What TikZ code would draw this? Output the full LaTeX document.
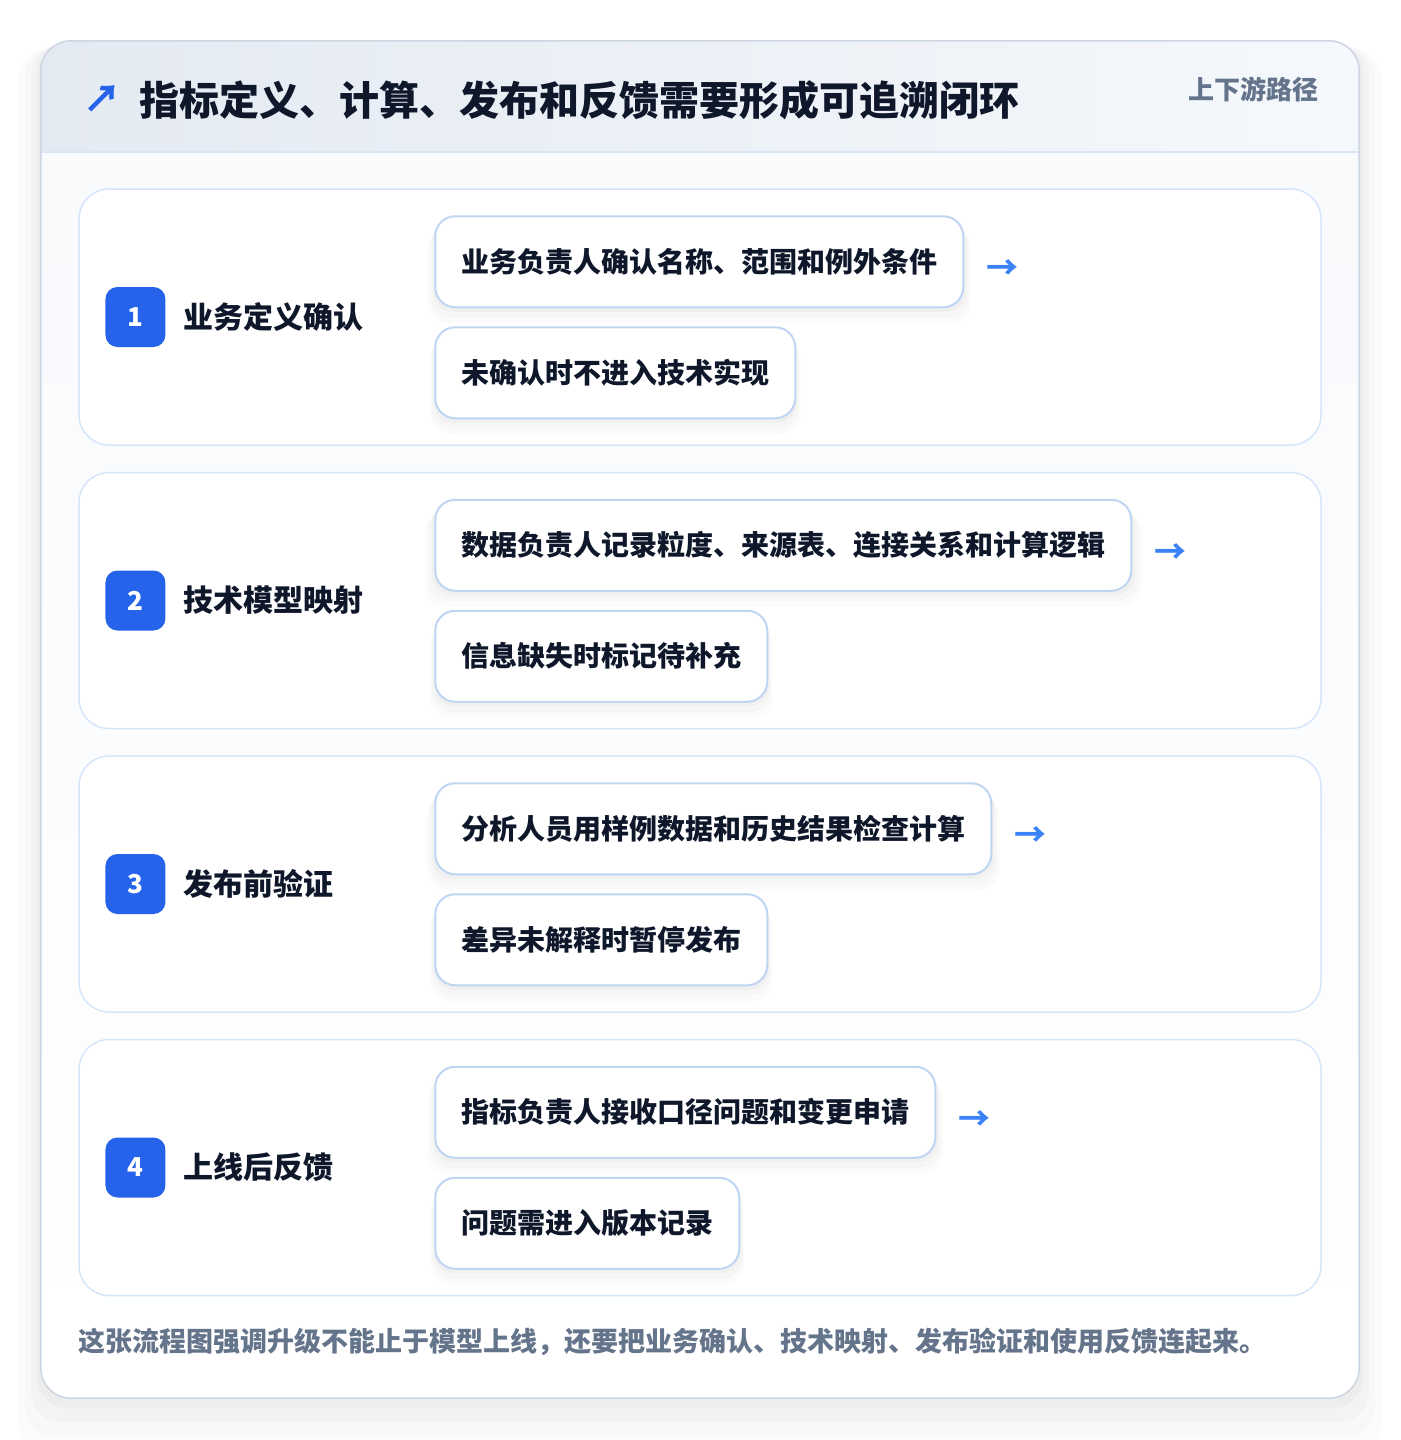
\documentclass[tikz,border=0pt]{standalone}
\usepackage{fontspec}
\setmainfont{Noto Sans CJK SC}
\usetikzlibrary{positioning,shadows}

\definecolor{ink}{HTML}{0F172A}
\definecolor{muted}{HTML}{64748B}
\definecolor{badgeblue}{HTML}{2563EB}
\definecolor{arrowblue}{HTML}{3B82F6}
\definecolor{cardline}{HTML}{D6E6FA}
\definecolor{boxline}{HTML}{BFD5F3}
\definecolor{outerline}{HTML}{CDD6E3}
\definecolor{headA}{HTML}{E4EAF2}
\definecolor{headB}{HTML}{F5F8FC}
\definecolor{headline}{HTML}{D9E6F6}
\definecolor{bodytop}{HTML}{F7F9FC}

\begin{document}
\begin{tikzpicture}[x=1pt, y=-1pt,
    outercard/.style={rounded corners=30pt, minimum width=1318pt, minimum height=1357pt, inner sep=0pt, top color=bodytop, bottom color=white,
        general shadow={fill=black, opacity=0.01, shadow yshift=-30pt, shadow scale=1.035},
        general shadow={fill=black, opacity=0.014, shadow yshift=-22pt, shadow scale=1.025},
        general shadow={fill=black, opacity=0.018, shadow yshift=-14pt, shadow scale=1.015},
        general shadow={fill=black, opacity=0.022, shadow yshift=-6pt, shadow scale=1.006}},
    stepcard/.style={draw=cardline, line width=1.5pt, fill=white, rounded corners=30pt, minimum width=1242pt, minimum height=256pt, inner sep=0pt},
    badge/.style={fill=badgeblue, rounded corners=12pt, minimum size=60pt, inner sep=0pt, text=white, font=\fontsize{26}{30}\selectfont\bfseries},
    steplabel/.style={inner sep=0pt, text=ink, font=\fontsize{30}{36}\selectfont\bfseries},
    itembox/.style={draw=boxline, line width=2pt, fill=white, rounded corners=20pt, minimum height=91pt, inner xsep=26pt, inner ysep=0pt,
        text=ink, font=\fontsize{28}{34}\selectfont\bfseries,
        general shadow={fill=black, opacity=0.015, shadow yshift=-14pt, shadow scale=1.03},
        general shadow={fill=black, opacity=0.02, shadow yshift=-9pt, shadow scale=1.02},
        general shadow={fill=black, opacity=0.025, shadow yshift=-4pt, shadow scale=1.01}},
    flowarrow/.style={inner sep=0pt, text=arrowblue, font=\fontsize{32}{36}\selectfont\bfseries}]
    \useasboundingbox (0,0) rectangle (1400,1440);
    \fill[white] (0,0) rectangle (1400,1440);
    % Outer card with header band
    \node[outercard] (card) at (700,719.5) {};
    \begin{scope}
        \clip[rounded corners=30pt] (41,41) rectangle (1359,1398);
        \shade[left color=headA, right color=headB] (41,41) rectangle (1359,152);
    \end{scope}
    \draw[headline, line width=1.5pt] (41,152) -- (1359,152);
    \draw[outerline, line width=1.5pt, rounded corners=30pt] (card.north west) rectangle (card.south east);
    \node[inner sep=0pt, text=badgeblue, font=\fontsize{38}{44}\selectfont\bfseries] (icon) at (102,99) {↗};
    \node[inner sep=0pt, anchor=west, text=ink, font=\fontsize{40}{48}\selectfont\bfseries] (title) at (139,100) {指标定义、计算、发布和反馈需要形成可追溯闭环};
    \node[inner sep=0pt, anchor=east, text=muted, font=\fontsize{26}{32}\selectfont\bfseries] (path) at (1319,89) {上下游路径};
    % Step cards
    \node[stepcard] (card1) at (700,317) {};
    \node[stepcard, below=26pt of card1] (card2) {};
    \node[stepcard, below=26pt of card2] (card3) {};
    \node[stepcard, below=26pt of card3] (card4) {};
    % Step 1
    \node[badge, right=27pt of card1.west] (badge1) {1};
    \node[steplabel, right=18pt of badge1] (label1) {业务定义确认};
    \node[itembox, below right=27pt and 356pt of card1.north west] (item1a) {业务负责人确认名称、范围和例外条件};
    \node[itembox, below=18pt of item1a.south west, anchor=north west] (item1b) {未确认时不进入技术实现};
    \node[flowarrow, right=22pt of item1a, yshift=-8pt] (arrow1) {→};
    % Step 2
    \node[badge, right=27pt of card2.west] (badge2) {2};
    \node[steplabel, right=18pt of badge2] (label2) {技术模型映射};
    \node[itembox, below right=27pt and 356pt of card2.north west] (item2a) {数据负责人记录粒度、来源表、连接关系和计算逻辑};
    \node[itembox, below=18pt of item2a.south west, anchor=north west] (item2b) {信息缺失时标记待补充};
    \node[flowarrow, right=22pt of item2a, yshift=-8pt] (arrow2) {→};
    % Step 3
    \node[badge, right=27pt of card3.west] (badge3) {3};
    \node[steplabel, right=18pt of badge3] (label3) {发布前验证};
    \node[itembox, below right=27pt and 356pt of card3.north west] (item3a) {分析人员用样例数据和历史结果检查计算};
    \node[itembox, below=18pt of item3a.south west, anchor=north west] (item3b) {差异未解释时暂停发布};
    \node[flowarrow, right=22pt of item3a, yshift=-8pt] (arrow3) {→};
    % Step 4
    \node[badge, right=27pt of card4.west] (badge4) {4};
    \node[steplabel, right=18pt of badge4] (label4) {上线后反馈};
    \node[itembox, below right=27pt and 356pt of card4.north west] (item4a) {指标负责人接收口径问题和变更申请};
    \node[itembox, below=18pt of item4a.south west, anchor=north west] (item4b) {问题需进入版本记录};
    \node[flowarrow, right=22pt of item4a, yshift=-8pt] (arrow4) {→};
    % Footer note
    \node[inner sep=0pt, anchor=west, text=muted, font=\fontsize{27}{32}\selectfont\bfseries] (note) at (78,1342) {这张流程图强调升级不能止于模型上线，还要把业务确认、技术映射、发布验证和使用反馈连起来。};
\end{tikzpicture}
\end{document}
